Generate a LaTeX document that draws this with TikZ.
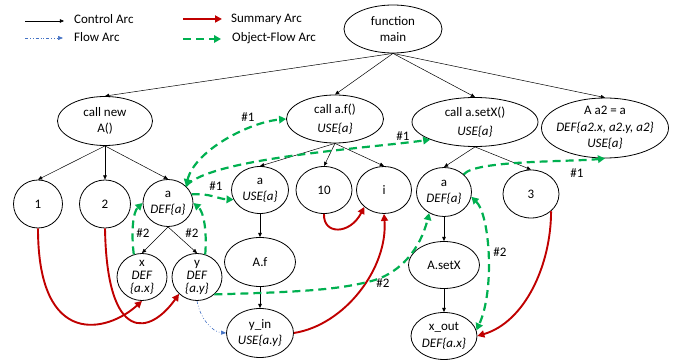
\documentclass[tikz,border=0pt]{standalone}
\usepackage{fontspec}
\setmainfont{Carlito}
\usetikzlibrary{shapes.geometric, arrows.meta}
\definecolor{sumred}{HTML}{C00000}
\definecolor{objgreen}{HTML}{00B050}
\definecolor{flowblue}{HTML}{4472C4}
\tikzset{
  gtip/.tip={Triangle[width=7.5pt,length=7pt]},
  rtip/.tip={Triangle[width=7pt,length=7pt]},
  ktip/.tip={Triangle[width=3.6pt,length=4.2pt]},
  btip/.tip={Triangle[width=4pt,length=5pt]},
}
\begin{document}
\begin{tikzpicture}[x=1pt, y=-1pt, font=\fontsize{13}{16.5}\selectfont,
  el/.style 2 args={ellipse, draw, line width=0.8pt, minimum width=#1, minimum height=#2, inner sep=0pt},
  tx/.style={align=center, inner sep=0pt},
  ctl/.style={-ktip, line width=0.5pt},
  summ/.style={-rtip, sumred, line width=1.9pt},
  obj/.style={-gtip, objgreen, line width=2.2pt, dash pattern=on 8pt off 5pt},
  objboth/.style={obj, gtip-gtip},
  flow/.style={-btip, flowblue, line width=0.6pt, dash pattern=on 3pt off 2pt on 0.8pt off 2pt on 0.8pt off 2pt},
  tag/.style={inner sep=0pt}
]
\useasboundingbox (0,0) rectangle (681,363);

% legend
\coordinate (c1a) at (25,21);  \coordinate (c1b) at (64,21);
\coordinate (c2a) at (25,38);  \coordinate (c2b) at (63,38);
\coordinate (c3a) at (183,19); \coordinate (c3b) at (222,19);
\coordinate (c4a) at (183,39); \coordinate (c4b) at (221,39);
\draw[ctl] (c1a) -- (c1b);
\draw[flow] (c2a) -- (c2b);
\draw[summ] (c3a) -- (c3b);
\draw[obj] (c4a) -- (c4b);
\node[tag, anchor=west] (lctl) at (74,19) {Control Arc};
\node[tag, anchor=west] (lflow) at (74,37) {Flow Arc};
\node[tag, anchor=west] (lsum) at (231,19) {Summary Arc};
\node[tag, anchor=west] (lobj) at (232,38) {Object-Flow Arc};

% tree nodes
\node[el={98pt}{48pt}, label={[tx]center:{function\\main}}] (main) at (393,29) {};
\node[el={95pt}{49pt}, label={[tx]center:{call new\\A()}}] (cn) at (105,121) {};
\node[el={49pt}{48pt}, label={[tx]center:{1}}] (n1) at (38,204) {};
\node[el={51pt}{48pt}, label={[tx]center:{2}}] (n2) at (105,204) {};
\node[el={50pt}{47pt}, label={[tx]center:{a\\\textit{DEF\{a\}}}}] (aL) at (168,203) {};
\node[el={50pt}{47pt}, label={[tx]center:{x\\[-3.5pt]\textit{DEF}\\[-3.5pt]\textit{\{a.x\}}}}] (nx) at (142,277) {};
\node[el={50pt}{47pt}, label={[tx]center:{y\\[-3.5pt]\textit{DEF}\\[-3.5pt]\textit{\{a.y\}}}}] (ny) at (197,277) {};
\node[el={97pt}{48pt}, label={[tx]center:{call a.f()\\[2pt]\textit{USE\{a\}}}}] (af) at (335,119) {};
\node[el={57pt}{47pt}, label={[tx]center:{a\\\textit{USE\{a\}}}}] (aU) at (260,190) {};
\node[el={56pt}{47pt}, label={[tx]center:{10}}] (n10) at (324,190) {};
\node[el={55pt}{47pt}, label={[tx]center:{i}}] (ni) at (384,190) {};
\node[el={71pt}{49pt}, label={[tx]center:{A.f}}] (Af) at (260,262) {};
\node[el={67pt}{49pt}, label={[tx]center:{y\_in\\\textit{USE\{a.y\}}}}] (yin) at (260,333) {};
\node[el={126pt}{49pt}, label={[tx]center:{call a.setX()\\[2pt]\textit{USE\{a\}}}}] (sx) at (475,122) {};
\node[el={127pt}{60pt}, label={[tx]center:{A a2 = a\\\textit{DEF\{a2.x, a2.y, a2\}}\\\textit{USE\{a\}}}}] (a2) at (605,128) {};
\node[el={55pt}{49pt}, label={[tx]center:{a\\\textit{DEF\{a\}}}}] (aR) at (444,192) {};
\node[el={56pt}{48pt}, label={[tx]center:{3}}] (n3) at (531,194) {};
\node[el={71pt}{47pt}, label={[tx]center:{A.setX}}] (As) at (444,265) {};
\node[el={66pt}{47pt}, label={[tx]center:{x\_out\\\textit{DEF\{a.x\}}}}] (xo) at (444,336) {};

% control arcs
\draw[ctl] (main.south) -- (cn.north);
\draw[ctl] (main.south) -- (af.north);
\draw[ctl] (main.south) -- (sx.north);
\draw[ctl] (main.south) -- (a2.north);
\draw[ctl] (cn.south) -- (n1.north);
\draw[ctl] (cn.south) -- (n2.north);
\draw[ctl] (cn.south) -- (aL.north);
\draw[ctl] (aL.south) -- (nx.north);
\draw[ctl] (aL.south) -- (ny.north);
\draw[ctl] (af.south) -- (aU.north);
\draw[ctl] (af.south) -- (n10.north);
\draw[ctl] (af.south) -- (ni.north);
\draw[ctl] (aU.south) -- (Af.north);
\draw[ctl] (Af.south) -- (yin.north);
\draw[ctl] (sx.south) -- (aR.north);
\draw[ctl] (sx.south) -- (n3.north);
\draw[ctl] (aR.south) -- (As.north);
\draw[ctl] (As.south) -- (xo.north);

% summary arcs
\draw[summ] (n1.south) .. controls (38,350) and (108,332) .. (nx.south);
\draw[summ] (n2.south) .. controls (107,345) and (150,335) .. (ny.south west);
\draw[summ] (n10.south) .. controls (323,235) and (350,235) .. (ni.south west);
\draw[summ] (yin.east) .. controls (345,325) and (388,268) .. (ni.south);
\draw[summ] (n3.south east) .. controls (551,265) and (525,322) .. (xo.east);

% object-flow arcs
\draw[objboth] (aL.north east) .. controls (195,150) and (250,122) .. (af.west);
\draw[obj] (aL.north east) .. controls (210,158) and (370,148) .. (sx.south west);
\draw[obj] (aL.20) .. controls (210,193) and (218,199) .. (aU.200);
\draw[obj] (nx.110) .. controls (131,232) and (133,212) .. (aL.west);
\draw[obj] (ny.70) .. controls (207,232) and (204,212) .. (aL.east);
\draw[obj] (ny.-45) .. controls (300,292) and (340,290) .. (375,280)
  .. controls (400,272) and (420,250) .. (aR.235);
\draw[obj] (aR.north east) .. controls (475,160) and (570,162) .. (a2.south);
\draw[objboth] (aR.-10) .. controls (490,215) and (495,290) .. (xo.10);

% flow arc
\draw[flow] (ny.south) .. controls (200,318) and (212,332) .. (yin.west);

% arc tags
\node[tag] (t1) at (248,117) {\#1};
\node[tag] (t2) at (403,136) {\#1};
\node[tag] (t3) at (216,186) {\#1};
\node[tag] (t4) at (577,173) {\#1};
\node[tag] (t5) at (143,233) {\#2};
\node[tag] (t6) at (192,233) {\#2};
\node[tag] (t7) at (383,283) {\#2};
\node[tag] (t8) at (500,252) {\#2};
\end{tikzpicture}
\end{document}
